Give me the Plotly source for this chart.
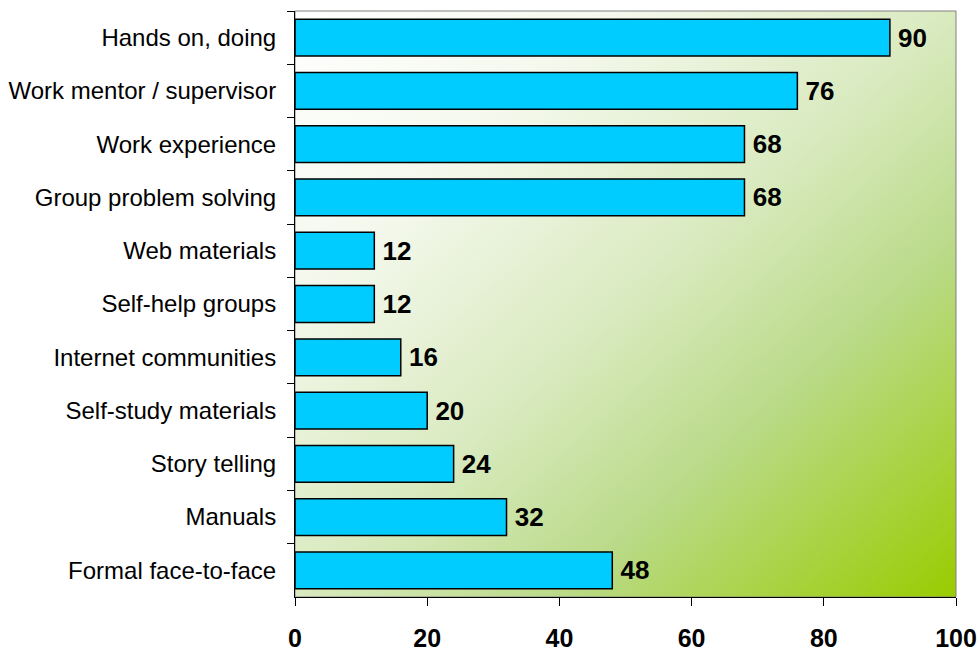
import urllib.parse
import plotly.graph_objects as go

# Learning methods and the share of respondents naming each one
methods = [
    "Hands on, doing",
    "Work mentor / supervisor",
    "Work experience",
    "Group problem solving",
    "Web materials",
    "Self-help groups",
    "Internet communities",
    "Self-study materials",
    "Story telling",
    "Manuals",
    "Formal face-to-face",
]
scores = [90, 76, 68, 68, 12, 12, 16, 20, 24, 32, 48]
x_ticks = [0, 20, 40, 60, 80, 100]

# Diagonal white-to-green fill for the plotting area
svg = (
    '<svg xmlns="http://www.w3.org/2000/svg" width="661" height="586" preserveAspectRatio="none">'
    '<defs><linearGradient id="g" x1="0" y1="0" x2="1" y2="1">'
    '<stop offset="0" stop-color="#FFFFFF"/>'
    '<stop offset="0.25" stop-color="#F4F8EC"/>'
    '<stop offset="0.5" stop-color="#D9EABF"/>'
    '<stop offset="0.7" stop-color="#BADA88"/>'
    '<stop offset="1" stop-color="#99CC00"/>'
    '</linearGradient></defs>'
    '<rect width="661" height="586" fill="url(#g)"/></svg>'
)
bg_uri = "data:image/svg+xml;charset=utf-8," + urllib.parse.quote(svg)

fig = go.Figure(
    go.Bar(
        x=scores,
        y=methods,
        orientation="h",
        marker=dict(color="#00CCFF", line=dict(color="#000000", width=1.5)),
        text=["\u2009" + str(v) for v in scores],
        textposition="outside",
        constraintext="none",
        textfont=dict(family="Liberation Sans, Arial, sans-serif", size=26, color="#000000", weight="bold"),
        cliponaxis=False,
        hoverinfo="skip",
    )
)

fig.update_layout(
    width=980,
    height=652,
    margin=dict(l=295, r=24, t=11, b=55),
    paper_bgcolor="#FFFFFF",
    plot_bgcolor="rgba(0,0,0,0)",
    bargap=0.31,
    showlegend=False,
    font=dict(family="Liberation Sans, Arial, sans-serif", color="#000000"),
    images=[
        dict(
            source=bg_uri,
            xref="paper",
            yref="paper",
            x=0,
            y=1,
            sizex=1,
            sizey=1,
            xanchor="left",
            yanchor="top",
            sizing="stretch",
            layer="below",
        )
    ],
    shapes=[
        dict(
            type="rect",
            xref="paper",
            yref="paper",
            x0=0,
            y0=0,
            x1=1,
            y1=1,
            line=dict(color="#808080", width=1),
            layer="below",
        )
    ],
)

fig.update_xaxes(
    range=[0, 100],
    tickvals=x_ticks,
    ticktext=[str(v) for v in x_ticks],
    ticks="outside",
    ticklen=8,
    tickcolor="#000000",
    showline=True,
    linecolor="#000000",
    linewidth=1,
    showgrid=False,
    zeroline=False,
    tickfont=dict(size=25, weight="bold", color="#000000"),
    ticklabelstandoff=11,
    automargin=False,
)

fig.update_yaxes(
    categoryorder="array",
    categoryarray=methods,
    autorange="reversed",
    tickson="boundaries",
    ticks="outside",
    ticklen=7,
    tickcolor="#000000",
    showline=True,
    linecolor="#000000",
    linewidth=1,
    showgrid=False,
    tickfont=dict(size=24, color="#000000"),
    ticklabelstandoff=13,
    automargin=False,
)

fig.write_html("out.html")
